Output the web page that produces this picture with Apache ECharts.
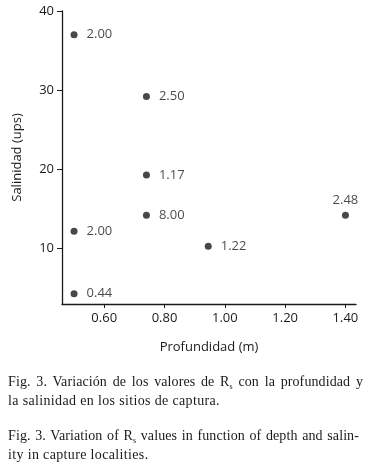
<!DOCTYPE html>
<html><head><meta charset="utf-8">
<script src="https://cdn.jsdelivr.net/npm/echarts@6/dist/echarts.min.js"></script>
<style>
html,body{margin:0;padding:0;background:#fff;}
#c{position:absolute;left:0;top:0;width:372px;height:469px;}
.ln{position:absolute;left:8px;width:355px;height:19.5px;font-family:"Liberation Serif","Times New Roman",serif;font-size:14px;letter-spacing:0.35px;line-height:19.5px;color:#1a1a1a;white-space:nowrap;text-align:left;}
.j{text-align:justify;text-align-last:justify;letter-spacing:0.1px;}
.ln sub{font-size:8px;vertical-align:-3px;line-height:0;}
</style></head>
<body>
<div id="c"></div>
<div class="ln j" style="top:371.5px">Fig. 3. Variación de los valores de R<sub>s</sub> con la profundidad y</div>
<div class="ln" style="top:391px">la salinidad en los sitios de captura.</div>
<div class="ln j" style="top:425.8px;width:351px">Fig. 3. Variation of R<sub>s</sub> values in function of depth and salin-</div>
<div class="ln" style="top:445.3px">ity in capture localities.</div>
<script>
const depth    = [0.50, 0.74, 0.74, 0.74, 0.50, 0.50, 0.945, 1.40];
const salinity = [37.0, 29.2, 19.3, 14.2, 12.2, 4.3, 10.3, 14.2];
const rsLabels = ['2.00','2.50','1.17','8.00','2.00','0.44','1.22','2.48'];
const labelPos = ['right','right','right','right','right','right','right','top'];
const xTicks = [0.6, 0.8, 1.0, 1.2, 1.4];
const yTicks = [10, 20, 30, 40];

const chart = echarts.init(document.getElementById('c'));
const ink = '#1a1a1a';
const font = '"Open Sans", "Noto Sans", sans-serif';
const data = depth.map((d,i)=>({
  value:[d, salinity[i]],
  label:{show:true, formatter:rsLabels[i], position:labelPos[i], distance: labelPos[i]==='top'?5:9}
}));
chart.setOption({
  animation:false,
  grid:{left:62, top:11, right:16, bottom:165},
  xAxis:{
    type:'value', min:0.46, max:1.435,
    name:'Profundidad (m)', nameLocation:'middle', nameGap:37,
    nameTextStyle:{color:ink, fontFamily:font, fontSize:13},
    axisLine:{show:true, lineStyle:{color:ink, width:1.3}},
    axisTick:{show:true, inside:false, length:4, customValues:xTicks, lineStyle:{color:ink}},
    axisLabel:{customValues:xTicks, color:ink, fontFamily:font, fontSize:13, margin:8, formatter:v=>v.toFixed(2)},
    splitLine:{show:false}
  },
  yAxis:{
    type:'value', min:3, max:40,
    name:'Salinidad (ups)', nameLocation:'middle', nameGap:38,
    nameTextStyle:{color:ink, fontFamily:font, fontSize:13},
    axisLine:{show:true, lineStyle:{color:ink, width:1.3}},
    axisTick:{show:true, inside:false, length:5, customValues:yTicks, lineStyle:{color:ink}},
    axisLabel:{customValues:yTicks, color:ink, fontFamily:font, fontSize:13, margin:8},
    splitLine:{show:false}
  },
  series:[{
    type:'scatter', symbolSize:7, itemStyle:{color:ink},
    label:{color:ink, fontFamily:font, fontSize:13},
    data:data
  }]
});
</script>
</body></html>
